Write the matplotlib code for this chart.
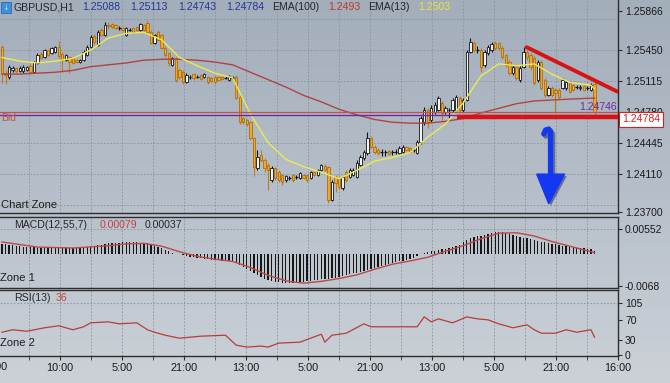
import numpy as np
import matplotlib.pyplot as plt
import matplotlib.patheffects as pe
from matplotlib.colors import LinearSegmentedColormap
from matplotlib.patches import Polygon, Rectangle

plt.rcParams['font.family'] = ['Liberation Sans', 'DejaVu Sans']
NARROW = ['Liberation Sans Narrow', 'Liberation Sans', 'DejaVu Sans']

W, H = 670, 383

# GBPUSD H1 candles (oldest first)
opens = [1.2548, 1.2520, 1.2516, 1.2523, 1.2526, 1.2522, 1.2522, 1.2523, 1.2528, 1.2521, 1.2531, 1.2541, 1.2537, 1.2545, 1.2542, 1.2543,
         1.2548, 1.2541, 1.2534, 1.2537, 1.2536, 1.2534, 1.2532, 1.2534, 1.2540, 1.2548, 1.2560, 1.2550, 1.2567, 1.2561, 1.2572,
         1.2573, 1.2572, 1.2569, 1.2569, 1.2561, 1.2567, 1.2569, 1.2570, 1.2567, 1.2572, 1.2574, 1.2564, 1.2553, 1.2564, 1.2561,
         1.2547, 1.2542, 1.2529, 1.2536, 1.2523, 1.2521, 1.2510, 1.2516, 1.2519, 1.2516, 1.2518, 1.2516, 1.2516, 1.2515,
         1.2516, 1.2516, 1.2516, 1.2515, 1.2513, 1.2515, 1.2516, 1.2494, 1.2472, 1.2469, 1.2467, 1.2450, 1.2418, 1.2432, 1.2426,
         1.2421, 1.2405, 1.2418, 1.2413, 1.2410, 1.2405, 1.2407, 1.2410, 1.2408, 1.2407, 1.2410, 1.2410, 1.2407, 1.2413, 1.2410,
         1.2415, 1.2420, 1.2419, 1.2383, 1.2408, 1.2407, 1.2396, 1.2413, 1.2408, 1.2410, 1.2408, 1.2421, 1.2428, 1.2434, 1.2450,
         1.2440, 1.2437, 1.2435, 1.2435, 1.2436, 1.2435, 1.2435, 1.2434, 1.2435, 1.2440, 1.2439, 1.2437, 1.2434, 1.2446, 1.2467,
         1.2480, 1.2469, 1.2478, 1.2480, 1.2488, 1.2478, 1.2480, 1.2480, 1.2480, 1.2493, 1.2480, 1.2491, 1.2543, 1.2553, 1.2545,
         1.2545, 1.2529, 1.2542, 1.2545, 1.2553, 1.2553, 1.2547, 1.2540, 1.2532, 1.2520, 1.2527, 1.2513, 1.2527, 1.2543, 1.2540,
         1.2536, 1.2513, 1.2532, 1.2513, 1.2496, 1.2504, 1.2502, 1.2502, 1.2504, 1.2504, 1.2509, 1.2507, 1.2505, 1.2504, 1.2506,
         1.2504, 1.2502, 1.25088]
highs = [1.2550, 1.2523, 1.2529, 1.2528, 1.2527, 1.2528, 1.2529, 1.2528, 1.2530, 1.2533, 1.2542, 1.2543, 1.2546, 1.2546, 1.2548, 1.2549,
         1.2555, 1.2543, 1.2541, 1.2539, 1.2537, 1.2535, 1.2535, 1.2545, 1.2550, 1.2561, 1.2562, 1.2567, 1.2569, 1.2575, 1.2575,
         1.2574, 1.2573, 1.2571, 1.2570, 1.2570, 1.2569, 1.2570, 1.2571, 1.2574, 1.2573, 1.2577, 1.2567, 1.2562, 1.2567, 1.2562,
         1.2549, 1.2543, 1.2537, 1.2537, 1.2526, 1.2523, 1.2520, 1.2518, 1.2520, 1.2518, 1.2519, 1.2520, 1.2517, 1.2516,
         1.2517, 1.2517, 1.2517, 1.2517, 1.2518, 1.2517, 1.2518, 1.2496, 1.2473, 1.2470, 1.2468, 1.2451, 1.2437, 1.2437, 1.2428,
         1.2423, 1.2420, 1.2419, 1.2415, 1.2411, 1.2410, 1.2409, 1.2411, 1.2410, 1.2413, 1.2411, 1.2411, 1.2414, 1.2414, 1.2416,
         1.2422, 1.2422, 1.2420, 1.2405, 1.2410, 1.2408, 1.2409, 1.2415, 1.2418, 1.2418, 1.2426, 1.2432, 1.2437, 1.2456, 1.2452,
         1.2442, 1.2439, 1.2438, 1.2437, 1.2437, 1.2437, 1.2438, 1.2441, 1.2442, 1.2441, 1.2440, 1.2439, 1.2448, 1.2474, 1.2483,
         1.2482, 1.2486, 1.2489, 1.2495, 1.2490, 1.2485, 1.2482, 1.2493, 1.2496, 1.2495, 1.2493, 1.2545, 1.2558, 1.2555, 1.2549,
         1.2547, 1.2545, 1.2550, 1.2554, 1.2555, 1.2554, 1.2549, 1.2541, 1.2534, 1.2529, 1.2529, 1.2528, 1.2548, 1.2545, 1.2542,
         1.2539, 1.2534, 1.2534, 1.2515, 1.2506, 1.2506, 1.2504, 1.2504, 1.2515, 1.2513, 1.2512, 1.2508, 1.2507, 1.2507, 1.2507,
         1.2506, 1.2509, 1.25113]
lows = [1.2509, 1.2508, 1.2514, 1.2521, 1.2520, 1.2521, 1.2520, 1.2522, 1.2520, 1.2520, 1.2530, 1.2535, 1.2536, 1.2539, 1.2541, 1.2542,
        1.2536, 1.2521, 1.2533, 1.2520, 1.2530, 1.2531, 1.2531, 1.2533, 1.2539, 1.2547, 1.2552, 1.2549, 1.2560, 1.2560, 1.2568,
        1.2569, 1.2568, 1.2567, 1.2566, 1.2560, 1.2566, 1.2563, 1.2566, 1.2566, 1.2566, 1.2563, 1.2552, 1.2552, 1.2555, 1.2546,
        1.2537, 1.2528, 1.2528, 1.2510, 1.2514, 1.2508, 1.2509, 1.2514, 1.2513, 1.2515, 1.2513, 1.2515, 1.2508, 1.2510,
        1.2508, 1.2512, 1.2513, 1.2514, 1.2512, 1.2514, 1.2492, 1.2465, 1.2465, 1.2463, 1.2448, 1.2409, 1.2415, 1.2424, 1.2413,
        1.2394, 1.2402, 1.2405, 1.2402, 1.2399, 1.2403, 1.2405, 1.2403, 1.2406, 1.2406, 1.2406, 1.2403, 1.2406, 1.2409, 1.2409,
        1.2414, 1.2414, 1.2380, 1.2382, 1.2392, 1.2395, 1.2394, 1.2402, 1.2407, 1.2409, 1.2407, 1.2420, 1.2426, 1.2432, 1.2439,
        1.2433, 1.2432, 1.2431, 1.2431, 1.2432, 1.2432, 1.2433, 1.2433, 1.2434, 1.2436, 1.2434, 1.2435, 1.2433, 1.2443, 1.2464,
        1.2461, 1.2467, 1.2476, 1.2479, 1.2469, 1.2476, 1.2472, 1.2478, 1.2478, 1.2478, 1.2478, 1.2490, 1.2542, 1.2543, 1.2542,
        1.2521, 1.2527, 1.2540, 1.2543, 1.2545, 1.2545, 1.2535, 1.2527, 1.2518, 1.2518, 1.2513, 1.2510, 1.2526, 1.2534, 1.2523,
        1.2507, 1.2510, 1.2502, 1.2494, 1.2495, 1.2494, 1.2477, 1.2492, 1.2503, 1.2502, 1.2499, 1.2501, 1.2503, 1.2502, 1.2501,
        1.2502, 1.2501, 1.24743]
closes = [1.2520, 1.2518, 1.2527, 1.2526, 1.2522, 1.2526, 1.2527, 1.2527, 1.2521, 1.2532, 1.2540, 1.2536, 1.2545, 1.2540, 1.2547, 1.2548,
          1.2539, 1.2534, 1.2540, 1.2532, 1.2531, 1.2532, 1.2534, 1.2543, 1.2548, 1.2559, 1.2554, 1.2564, 1.2561, 1.2572, 1.2571,
          1.2570, 1.2569, 1.2569, 1.2567, 1.2569, 1.2567, 1.2564, 1.2567, 1.2573, 1.2567, 1.2564, 1.2553, 1.2561, 1.2556, 1.2547,
          1.2540, 1.2531, 1.2536, 1.2513, 1.2516, 1.2510, 1.2518, 1.2516, 1.2515, 1.2516, 1.2514, 1.2519, 1.2510, 1.2512,
          1.2510, 1.2513, 1.2514, 1.2515, 1.2517, 1.2515, 1.2493, 1.2467, 1.2467, 1.2465, 1.2450, 1.2419, 1.2429, 1.2426, 1.2418,
          1.2415, 1.2418, 1.2407, 1.2405, 1.2402, 1.2409, 1.2407, 1.2405, 1.2408, 1.2412, 1.2407, 1.2405, 1.2413, 1.2410, 1.2415,
          1.2421, 1.2415, 1.2383, 1.2402, 1.2401, 1.2397, 1.2408, 1.2405, 1.2415, 1.2415, 1.2423, 1.2429, 1.2435, 1.2450, 1.2440,
          1.2435, 1.2434, 1.2435, 1.2435, 1.2433, 1.2435, 1.2435, 1.2439, 1.2440, 1.2437, 1.2435, 1.2437, 1.2446, 1.2472, 1.2480,
          1.2467, 1.2482, 1.2486, 1.2493, 1.2477, 1.2482, 1.2480, 1.2491, 1.2494, 1.2480, 1.2491, 1.2543, 1.2554, 1.2545, 1.2545,
          1.2527, 1.2543, 1.2548, 1.2552, 1.2547, 1.2547, 1.2537, 1.2529, 1.2520, 1.2527, 1.2515, 1.2526, 1.2543, 1.2537, 1.2527,
          1.2509, 1.2532, 1.2504, 1.2496, 1.2504, 1.2496, 1.2499, 1.2494, 1.2513, 1.2510, 1.2500, 1.2502, 1.2505, 1.2505, 1.2502,
          1.2504, 1.2507, 1.24784]

# moving averages, sampled every few bars
ma_bars = [0, 5, 10, 15, 20, 25, 30, 35, 40, 45, 50, 55, 60, 65, 70, 75, 80, 85, 90, 95, 100, 105, 110, 115, 120,
           125, 130, 135, 140, 145, 150, 155, 160, 166, 167]
ema13 = [1.2537, 1.2533, 1.2531, 1.2533, 1.2536, 1.2545, 1.2558, 1.2563, 1.2564, 1.2556, 1.2537, 1.2528, 1.2520, 1.2515,
         1.2476, 1.2445, 1.2427, 1.2419, 1.2413, 1.2406, 1.2415, 1.2425, 1.2429, 1.2434, 1.2451, 1.2465, 1.2488, 1.2517,
         1.2530, 1.2528, 1.2530, 1.2519, 1.2510, 1.2507, 1.2503]
ema100 = [1.2519, 1.2519, 1.2520, 1.2521, 1.2523, 1.2527, 1.2529, 1.2531, 1.2534, 1.2535, 1.2535, 1.2534, 1.2532, 1.2529,
          1.2521, 1.2513, 1.2505, 1.2496, 1.2489, 1.2481, 1.2475, 1.2470, 1.2467, 1.2466, 1.2466, 1.2468, 1.2471, 1.2477,
          1.2482, 1.2487, 1.2490, 1.2491, 1.2492, 1.2493, 1.2493]

# MACD(12,55,7) main value per bar
macd = [0.0023, 0.0022, 0.0021, 0.0020, 0.0019, 0.0018, 0.0017, 0.0017, 0.0016, 0.0016, 0.0015, 0.0015,
        0.0015, 0.0015, 0.0014, 0.0014, 0.0015, 0.0014, 0.0014, 0.0014, 0.0014, 0.0014, 0.0014, 0.0015,
        0.0016, 0.0017, 0.0018, 0.0020, 0.0021, 0.0022, 0.0024, 0.0024, 0.0025, 0.0025, 0.0026, 0.0026,
        0.0026, 0.0026, 0.0026, 0.0025, 0.0025, 0.0024, 0.0022, 0.0019, 0.0016, 0.0013, 0.0010, 0.0007,
        0.0004, 0.0002, 0.0000, -0.0002, -0.0003, -0.0005, -0.0006, -0.0007, -0.0008, -0.0009, -0.0010, -0.0011,
        -0.0012, -0.0012, -0.0013, -0.0014, -0.0015, -0.0016, -0.0018, -0.0022, -0.0026, -0.0031, -0.0036, -0.0041,
        -0.0045, -0.0049, -0.0052, -0.0055, -0.0057, -0.0059, -0.0060, -0.0061, -0.0062, -0.0062, -0.0062, -0.0061,
        -0.0060, -0.0059, -0.0058, -0.0057, -0.0056, -0.0055, -0.0054, -0.0053, -0.0052, -0.0051, -0.0050, -0.0049,
        -0.0047, -0.0045, -0.0043, -0.0041, -0.0039, -0.0037, -0.0035, -0.0033, -0.0031, -0.0029, -0.0027, -0.0025,
        -0.0023, -0.0021, -0.0019, -0.0017, -0.0015, -0.0013, -0.0011, -0.0009, -0.0007, -0.0004, 0.0001, 0.0003,
        0.0005, 0.0007, 0.0008, 0.0010, 0.0011, 0.0012, 0.0014, 0.0016, 0.0018, 0.0021, 0.0026, 0.0031,
        0.0035, 0.0037, 0.0039, 0.0041, 0.0043, 0.0045, 0.0047, 0.0048, 0.0049, 0.0048, 0.0046, 0.0044,
        0.0042, 0.0040, 0.0038, 0.0036, 0.0035, 0.0034, 0.0032, 0.0030, 0.0028, 0.0026, 0.0024, 0.0023,
        0.0022, 0.0021, 0.0019, 0.0018, 0.0017, 0.0016, 0.0015, 0.0014, 0.0013, 0.0012, 0.0011, 0.0008]
signal_bars = [0, 10, 20, 30, 35, 40, 45, 50, 55, 60, 65, 70, 75, 80, 85, 90, 95, 100, 105, 110, 115, 120,
               125, 130, 135, 140, 145, 150, 155, 160, 167]
signal = [0.0027, 0.0016, 0.0014, 0.0019, 0.0023, 0.0024, 0.0018, 0.0006, -0.0004, -0.0010, -0.0015, -0.0028,
          -0.0045, -0.0057, -0.0062, -0.0058, -0.0052, -0.0044, -0.0032, -0.0021, -0.0014, -0.0006, 0.0007, 0.0019,
          0.0034, 0.0046, 0.0047, 0.0040, 0.0028, 0.0018, 0.0004]

# RSI(13)
rsi_bars = [0, 3, 7, 12, 16, 20, 23, 25, 30, 33, 38, 41, 43, 46, 50, 56, 63, 66, 69, 73, 75, 78, 84, 87, 90,
            91, 93, 97, 102, 104, 113, 117, 119, 121, 123, 127, 131, 134, 137, 140, 144, 148, 150, 152, 156,
            159, 162, 166, 167]
rsi = [46, 51, 48, 55, 59, 51, 57, 65, 67, 63, 65, 51, 46, 40, 34, 38, 40, 20, 16, 18, 16, 24, 26, 34, 42,
       26, 40, 44, 63, 57, 57, 57, 77, 67, 73, 65, 77, 73, 71, 63, 55, 61, 51, 44, 44, 51, 46, 51, 36]

time_labels = ['10:00', '5:00', '21:00', '13:00', '5:00', '21:00', '13:00', '5:00', '21:00', '16:00']
price_ticks = [1.25866, 1.25450, 1.25115, 1.24780, 1.24445, 1.24110, 1.23700]
price_grid = [1.25785, 1.25450, 1.25115, 1.24780, 1.24445, 1.24110, 1.23775]

bid = 1.24784
level = 1.24746
support = 1.2473
trend_x, trend_y = [147.9, 173.5], [1.2548, 1.2500]
arrow_x = [152.7, 153.2, 154.1, 154.6, 154.6]
arrow_y = [1.24543, 1.24586, 1.24597, 1.24564, 1.24100]
head_x = [150.7, 158.6, 154.1]
head_y = [1.24110, 1.24110, 1.23790]

# ---------------------------------------------------------------
bar_px = 3.55
grid_step = 31 / bar_px
grid_x = (29 - 2) / bar_px + grid_step * np.arange(20)
xlim = (-2 / bar_px, grid_x[-1] + 0.1)

def fx(px):
    return px / W

def fy(py):
    return 1 - py / H

fig = plt.figure(figsize=(W / 100, H / 100), dpi=100)

bg = fig.add_axes([0, 0, 1, 1], zorder=-5)
cmap = LinearSegmentedColormap.from_list('bg', ['#a3aebb', '#b6bfc9', '#ccd1d7'])
bg.imshow(np.linspace(0, 1, 256).reshape(-1, 1), aspect='auto', cmap=cmap, extent=[0, 1, 0, 1])
bg.axis('off')

ax = fig.add_axes([0, fy(213), fx(618), 213 / H])
am = fig.add_axes([0, fy(288), fx(618), 71 / H])
ar = fig.add_axes([0, fy(356), fx(618), 66 / H])

gridc = '#8792a0'
spc = '#2e2e2e'
for a in (ax, am, ar):
    a.set_facecolor('none')
    a.set_xlim(*xlim)
    for gx in grid_x[:-1]:
        a.axvline(gx, color=gridc, lw=0.6, ls=(0, (2, 2)), zorder=0)
    a.spines['left'].set_visible(False)
    for s in ('right', 'bottom', 'top'):
        a.spines[s].set_color(spc)
        a.spines[s].set_linewidth(1)
    a.yaxis.tick_right()
    a.tick_params(axis='y', length=3, pad=2, labelsize=7.5, color=spc, labelcolor='#1a1a1a')
ax.spines['top'].set_visible(False)
ax.set_xticks([])
am.set_xticks([])

# ---- main pane
ax.set_ylim(1.2369, 1.2599)
ax.set_yticks(price_ticks)
ax.set_yticklabels(['%.5f' % p for p in price_ticks])
for p in price_grid:
    ax.axhline(p, color=gridc, lw=0.6, ls=(0, (2, 2)), zorder=0)

x = np.arange(len(closes))
o, h, l, c = map(np.array, (opens, highs, lows, closes))
up = c > o
dn = c < o
fl = c == o
ax.vlines(x[~dn], l[~dn], h[~dn], color='#141414', lw=0.8, zorder=2)
ax.vlines(x[dn], l[dn], h[dn], color='#c07d12', lw=0.8, zorder=2)
ax.bar(x[up], (c - o)[up], bottom=o[up], width=0.66, color='#f3f3f3', edgecolor='#141414', lw=0.6, zorder=3)
ax.bar(x[dn], (o - c)[dn], bottom=c[dn], width=0.66, color='#eea62c', edgecolor='#b06f0c', lw=0.6, zorder=3)
ax.hlines(c[fl], x[fl] - 0.4, x[fl] + 0.4, color='#141414', lw=0.9, zorder=3)

ax.plot(ma_bars, ema100, color='#b2433f', lw=1.0, zorder=4)
ax.plot(ma_bars, ema13, color='#ecea50', lw=1.0, zorder=4)

ax.axhline(bid, color='#c4504c', lw=0.9, zorder=4)
ax.axhline(level, color='#6b2aa3', lw=1.0, zorder=4)
ax.plot([128.2, xlim[1]], [support, support], color='#d61414', lw=3.2, solid_capstyle='butt', zorder=5)
ax.plot(trend_x, trend_y, color='#d61414', lw=2.8, solid_capstyle='round', zorder=5)

shadow = [pe.SimpleLineShadow(offset=(1.5, -1.5), shadow_color='#1a2050', alpha=0.5), pe.Normal()]
ax.plot(arrow_x, arrow_y, color='#1438f2', lw=3.8, solid_capstyle='round', solid_joinstyle='round',
        zorder=6, path_effects=shadow)
ax.add_patch(Polygon(list(zip(head_x, head_y)), closed=True, color='#1438f2', zorder=6,
                     path_effects=[pe.SimplePatchShadow(offset=(1.5, -1.5), shadow_rgbFace='#1a2050', alpha=0.5),
                                   pe.Normal()]))

ax.text(173.2, 1.2483, '1.24746', ha='right', va='center', fontsize=7.5, color='#6b2aa3', zorder=7)
ax.text(-0.3, 1.24716, 'Bid', ha='left', va='center', fontsize=7.5, color='#c4504c', zorder=7)
ax.text(-0.3, 1.2378, 'Chart Zone', ha='left', va='center', fontsize=8, color='#1e1e1e', zorder=7)

# ---- MACD pane
am.set_ylim(-0.00724, 0.0081)
am.bar(x, macd, width=0.36, color='#161616', lw=0, zorder=2)
am.plot(signal_bars, signal, color='#b84a48', lw=1.0, zorder=3)
am.axhline(0.00552, color=gridc, lw=0.6, ls=(0, (2, 2)), zorder=0)
am.set_yticks([0.00552, -0.0068])
am.set_yticklabels(['0.00552', '-0.0068'])

# ---- RSI pane
ar.set_ylim(-2, 131.3)
ar.plot(rsi_bars, rsi, color='#b43e3c', lw=0.9, zorder=3)
ar.axhline(105, color=gridc, lw=0.6, ls=(0, (2, 2)), zorder=0)
ar.set_yticks([105, 70, 30, 0])
ar.set_yticklabels(['105', '70', '30', '0'])
ar.set_xticks(grid_x[1::2])
ar.set_xticklabels(time_labels, fontsize=7.8, family=NARROW, color='#1a1a1a')
ar.set_xticks(grid_x[0::2], minor=True)
ar.tick_params(axis='x', which='both', length=3, pad=2, color=spc)

# ---- header and pane captions
fig.patches.append(Rectangle((fx(1), fy(13)), fx(10), 11 / H, transform=fig.transFigure,
                             facecolor='#3d8fe0', edgecolor='#2a6cb0', lw=0.6))
fig.text(fx(6), fy(7.5), '\u2193', ha='center', va='center', fontsize=7, color='white', weight='bold')
header = [(13, 'GBPUSD,H1', '#262626'), (82, '1.25088', '#26369a'), (130, '1.25113', '#26369a'),
          (178, '1.24743', '#26369a'), (226, '1.24784', '#26369a'), (272, 'EMA(100)', '#262626'),
          (328, '1.2493', '#c0392b'), (368, 'EMA(13)', '#262626'), (418, '1.2503', '#e6e23a')]
for px, txt, col in header:
    fig.text(fx(px), fy(7.5), txt, ha='left', va='center', fontsize=7.6, color=col)

fig.text(fx(14), fy(225), 'MACD(12,55,7)', ha='left', va='center', fontsize=7.6, color='#262626')
fig.text(fx(100), fy(225), '0.00079', ha='left', va='center', fontsize=7.6, color='#c84040')
fig.text(fx(145), fy(225), '0.00037', ha='left', va='center', fontsize=7.6, color='#262626')
fig.text(fx(0), fy(278), 'Zone 1', ha='left', va='center', fontsize=8, color='#1e1e1e')
fig.text(fx(14), fy(298), 'RSI(13)', ha='left', va='center', fontsize=7.6, color='#262626')
fig.text(fx(56), fy(298), '36', ha='left', va='center', fontsize=7.6, color='#c84040')
fig.text(fx(0), fy(343), 'Zone 2', ha='left', va='center', fontsize=8, color='#1e1e1e')
fig.text(fx(8), fy(367), '21:00', ha='right', va='center', fontsize=7.8, family=NARROW, color='#1a1a1a')

fig.text(fx(622), fy(119.5), '1.24784', ha='left', va='center', fontsize=7.6, color='#d42020', zorder=10,
         bbox=dict(boxstyle='square,pad=0.25', facecolor='white', edgecolor='#d42020', lw=0.8))

fig.savefig('out.png', dpi=100)
